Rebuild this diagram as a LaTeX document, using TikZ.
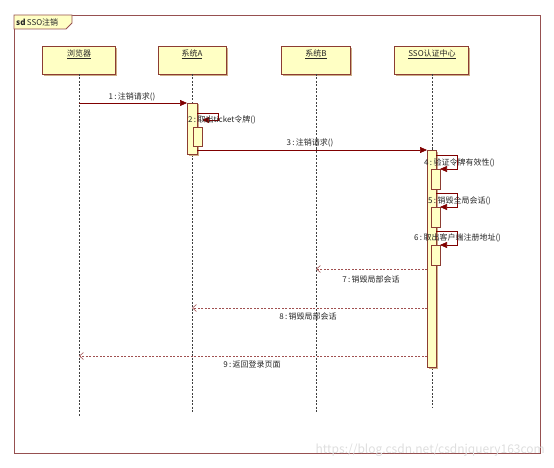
\documentclass[tikz,border=0pt]{standalone}
\usepackage{fontspec}
\setmainfont{Noto Sans CJK SC}
\usetikzlibrary{arrows.meta}
\definecolor{framec}{RGB}{150,80,80}
\definecolor{boxfill}{RGB}{255,255,196}
\definecolor{boxline}{RGB}{140,60,50}
\definecolor{shadowc}{RGB}{205,175,135}
\definecolor{msgc}{RGB}{128,0,0}
\definecolor{retc}{RGB}{160,80,80}
\definecolor{wmc}{RGB}{222,222,222}
\begin{document}
\begin{tikzpicture}[x=1pt,y=-1pt,
  every node/.style={font=\fontsize{8}{9.5}\selectfont, inner sep=0pt},
  framebox/.style={draw=framec, line width=0.8pt},
  headbox/.style={draw=boxline, fill=boxfill, line width=0.6pt, minimum width=72pt, minimum height=28pt, anchor=north},
  lifeln/.style={draw=black!75, line width=0.5pt, dash pattern=on 2pt off 1.5pt},
  actbar/.style={draw=boxline, fill=boxfill, line width=0.6pt},
  msg/.style={draw=msgc, line width=0.6pt, -{Triangle[length=7pt,width=6pt]}, color=msgc},
  selfmsg/.style={draw=msgc, line width=0.6pt, -{Triangle[length=7pt,width=6pt]}, color=msgc},
  retmsg/.style={draw=retc, line width=0.6pt, dash pattern=on 2pt off 1.5pt, -{Straight Barb[length=4pt,width=7pt]}},
  lbl/.style={text=black!85}
]
\useasboundingbox (0,0) rectangle (554,468);
% frame
\draw[framebox] (14,15) rectangle (540,453);
\draw[framebox, fill=boxfill] (14,15) -- (72,15) -- (72,23) -- (66,29) -- (14,29) -- cycle;
\node[anchor=west, lbl] (title) at (16,22) {\textbf{sd}\,SSO注销};

% shadows
\fill[shadowc] (44,48) rectangle (117,76);
\fill[shadowc] (160,48) rectangle (228,76);
\fill[shadowc] (283,48) rectangle (352,76);
\fill[shadowc] (396,48) rectangle (470,76);
% heads
\node[headbox, minimum width=73pt] (br) at (78.5,46) {};
\node[headbox, minimum width=68pt] (sa) at (192,46) {};
\node[headbox, minimum width=69pt] (sb) at (315.5,46) {};
\node[headbox, minimum width=74pt] (sso) at (431,46) {};
\node[lbl] (brt) at (79,54) {\underline{浏览器}};
\node[lbl] (sat) at (192,54) {\underline{系统A}};
\node[lbl] (sbt) at (316,54) {\underline{系统B}};
\node[lbl] (ssot) at (432,54) {\underline{SSO认证中心}};

% lifelines
\coordinate (brE) at (79,417);
\coordinate (saE) at (192,412);
\coordinate (sbE) at (316,412);
\coordinate (ssoE) at (432,408);
\draw[lifeln] (79,74) -- (brE);
\draw[lifeln] (192,74) -- (saE);
\draw[lifeln] (316,74) -- (sbE);
\draw[lifeln] (432,74) -- (ssoE);

% activations
\fill[shadowc] (188.5,104.5) rectangle (198.5,155.5);
\draw[actbar] (187,103) rectangle (197,154);
\draw[actbar] (193,127) rectangle (202,146);
\fill[shadowc] (428.5,151.5) rectangle (437.5,368.5);
\draw[actbar] (427,150) rectangle (436,367);
\draw[actbar] (431,169) rectangle (440,189);
\draw[actbar] (431,207) rectangle (440,227);
\draw[actbar] (431,245) rectangle (440,265);

% coordinates for messages
\coordinate (m1s) at (79,103);
\coordinate (m1e) at (187,103);
\coordinate (m3s) at (197,150);
\coordinate (m3e) at (427,150);
\coordinate (m7s) at (427,269);
\coordinate (m7e) at (316,269);
\coordinate (m8s) at (427,308);
\coordinate (m8e) at (192,308);
\coordinate (m9s) at (427,356);
\coordinate (m9e) at (79,356);

% messages
\draw[msg] (m1s) -- (m1e);
\draw[selfmsg] (197,113) -- (218,113) -- (218,120) -- (202,120);
\draw[msg] (m3s) -- (m3e);
\draw[selfmsg] (436,155) -- (457,155) -- (457,169) -- (440,169);
\draw[selfmsg] (436,193) -- (457,193) -- (457,207) -- (440,207);
\draw[selfmsg] (436,231) -- (457,231) -- (457,245) -- (440,245);
\draw[retmsg] (m7s) -- (m7e);
\draw[retmsg] (m8s) -- (m8e);
\draw[retmsg] (m9s) -- (m9e);

% labels
\node[lbl] (l1) at (132,97) {1\,:\,注销请求()};
\node[lbl, anchor=west] (l2) at (188,120) {2\,:\,取出ticket令牌()};
\node[lbl] (l3) at (310,143) {3\,:\,注销请求()};
\node[lbl, anchor=west] (l4) at (424,163) {4\,:\,验证令牌有效性()};
\node[lbl, anchor=west] (l5) at (428,201) {5\,:\,销毁全局会话()};
\node[lbl, anchor=west] (l6) at (414,238) {6\,:\,取出客户端注册地址()};
\node[lbl] (l7) at (371,279) {7\,:\,销毁局部会话};
\node[lbl] (l8) at (308,316) {8\,:\,销毁局部会话};
\node[lbl] (l9) at (252,364) {9\,:\,返回登录页面};

% watermark
\node[anchor=east, text=wmc, font=\fontsize{12}{14}\selectfont] (wm) at (545,450) {https://blog.csdn.net/csdnjquery163com};
\end{tikzpicture}
\end{document}
